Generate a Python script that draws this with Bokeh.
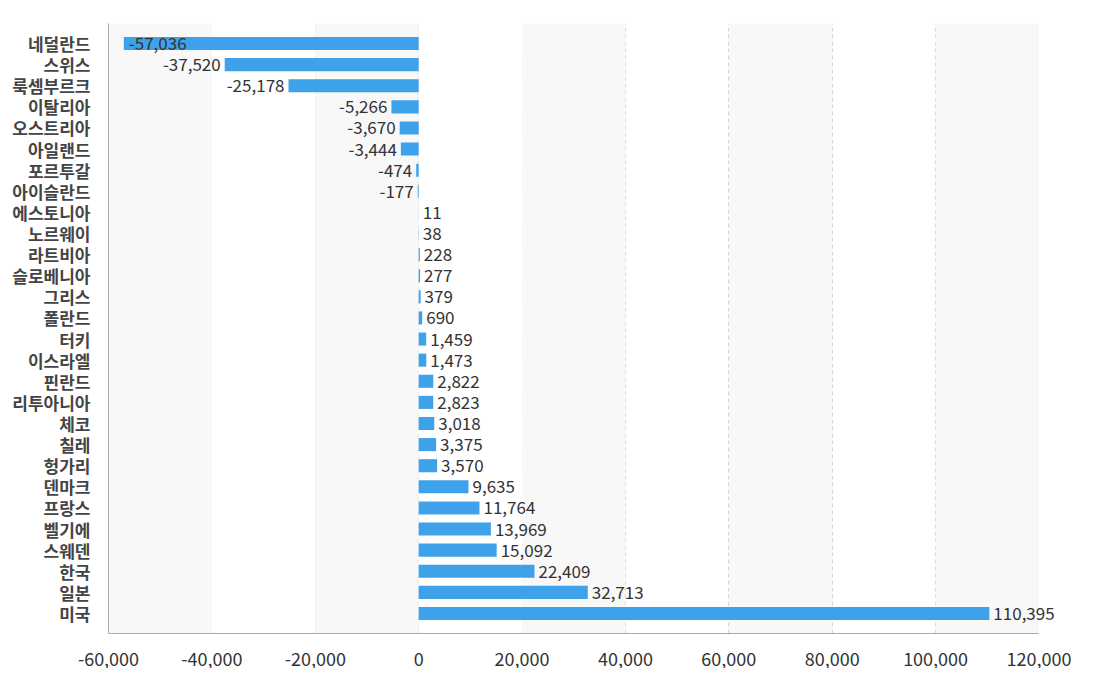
from bokeh.plotting import figure
from bokeh.models import (ColumnDataSource, FactorRange, Range1d, FixedTicker,
                          NumeralTickFormatter, LabelSet, BoxAnnotation)
from bokeh.core.properties import value
from bokeh.embed import file_html
from bokeh.resources import INLINE

countries = ["네덜란드", "스위스", "룩셈부르크", "이탈리아", "오스트리아", "아일랜드", "포르투갈", "아이슬란드",
             "에스토니아", "노르웨이", "라트비아", "슬로베니아", "그리스", "폴란드", "터키", "이스라엘",
             "핀란드", "리투아니아", "체코", "칠레", "헝가리", "덴마크", "프랑스", "벨기에", "스웨덴",
             "한국", "일본", "미국"]
values = [-57036, -37520, -25178, -5266, -3670, -3444, -474, -177,
          11, 38, 228, 277, 379, 690, 1459, 1473,
          2822, 2823, 3018, 3375, 3570, 9635, 11764, 13969, 15092,
          22409, 32713, 110395]
x_ticks = [-60000, -40000, -20000, 0, 20000, 40000, 60000, 80000, 100000, 120000]

FONT = "Noto Sans CJK KR"
XMIN, XMAX = x_ticks[0], x_ticks[-1]
EXTRA = 3000  # room on the right so the last value label is not clipped
PX_PER_UNIT = 930 / (XMAX - XMIN)

labels = [f"{v:,}" for v in values]
aligns = []
offs = []
for v in values:
    if v < 0 and (v - 12000) < XMIN:
        aligns.append("left"); offs.append(5)
    elif v < 0:
        aligns.append("right"); offs.append(-4)
    else:
        aligns.append("left"); offs.append(4)

src = ColumnDataSource(dict(country=countries, val=values, lab=labels, align=aligns, off=offs))

p = figure(y_range=FactorRange(factors=list(reversed(countries)), range_padding=0.032),
           x_range=Range1d(XMIN, XMAX + EXTRA),
           frame_width=round((XMAX + EXTRA - XMIN) * PX_PER_UNIT), frame_height=610,
           min_border_left=108, min_border_top=23, min_border_right=20, min_border_bottom=10,
           output_backend="svg", toolbar_location=None, outline_line_color=None)

# alternating background bands
for i in range(0, len(x_ticks) - 1, 2):
    p.add_layout(BoxAnnotation(left=x_ticks[i], right=x_ticks[i + 1],
                               fill_color="#f8f8f8", fill_alpha=1.0, line_color=None,
                               level="underlay"))

p.hbar(y="country", left=0, right="val", height=0.62, source=src,
       fill_color="#3ea2ea", line_color=None)

labs = LabelSet(x="val", y="country", text="lab", source=src, text_align="align",
                text_baseline="middle", x_offset="off", text_font=value(FONT),
                text_font_size="17px", text_color="#333333")
p.add_layout(labs)

p.xaxis.ticker = FixedTicker(ticks=x_ticks)
p.xaxis.bounds = (XMIN, XMAX)
p.xaxis.formatter = NumeralTickFormatter(format="0,0")
p.xaxis.major_tick_line_color = None
p.xaxis.minor_tick_line_color = None
p.xaxis.axis_line_color = "#aaaaaa"
p.xaxis.major_label_text_font = FONT
p.xaxis.major_label_text_font_size = "18px"
p.xaxis.major_label_text_color = "#333333"
p.xaxis.major_label_standoff = 12

p.yaxis.major_tick_line_color = None
p.yaxis.minor_tick_line_color = None
p.yaxis.axis_line_color = "#aaaaaa"
p.yaxis.major_label_text_font = FONT
p.yaxis.major_label_text_font_size = "17px"
p.yaxis.major_label_text_font_style = "bold"
p.yaxis.major_label_text_color = "#444444"
p.yaxis.major_label_standoff = 12

p.ygrid.grid_line_color = None
p.xgrid.ticker = FixedTicker(ticks=x_ticks)
p.xgrid.grid_line_color = "#cccccc"
p.xgrid.grid_line_dash = "4 3"

open("out.html", "w").write(file_html(p, INLINE))
